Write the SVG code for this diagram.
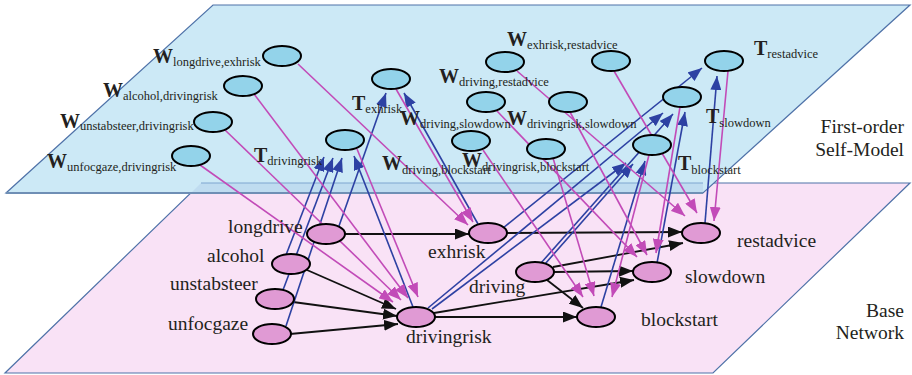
<svg xmlns="http://www.w3.org/2000/svg" width="912" height="375" viewBox="0 0 912 375">
<defs>
<style>
.plane{stroke:#4f72a8;stroke-width:1.2}
.tn{fill:#93d3ea;stroke:#000;stroke-width:2}
.bn{fill:#e09ad4;stroke:#000;stroke-width:2}
.k{stroke:#111;stroke-width:1.8;fill:none}
.b{stroke:#2d41a3;stroke-width:1.6;fill:none}
.m{stroke:#c24bb8;stroke-width:1.6;fill:none}
text{font-family:"Liberation Serif","Times New Roman",serif;fill:#231f20}
.big{font-size:20px;font-weight:bold}
.sub{font-size:12.5px}
.lb{font-size:19.5px}
</style>
<marker id="ak" markerUnits="userSpaceOnUse" markerWidth="14" markerHeight="11" refX="14" refY="5.5" orient="auto"><path d="M0,0 L14,5.5 L0,11 z" fill="#111"/></marker>
<marker id="ab" markerUnits="userSpaceOnUse" markerWidth="14" markerHeight="11" refX="14" refY="5.5" orient="auto"><path d="M0,0 L14,5.5 L0,11 z" fill="#2d41a3"/></marker>
<marker id="am" markerUnits="userSpaceOnUse" markerWidth="14" markerHeight="11" refX="14" refY="5.5" orient="auto"><path d="M0,0 L14,5.5 L0,11 z" fill="#c24bb8"/></marker>
</defs>

<g id="planes">
<polygon class="plane" points="201,183 910,183 713,373 5,373" fill="#f9e2f6"/>
<polygon class="plane" points="213,5 910,5 703,193 6,193" fill="#cce9f6"/>
<polygon points="201,183 703,183 703,193 191,193" fill="#bfdcf0"/>
<line x1="201" y1="183" x2="703" y2="183" stroke="#7fa6d0" stroke-width="1.2"/>
<line x1="6" y1="193" x2="703" y2="193" stroke="#6f8fb5" stroke-width="2"/>
</g>

<g id="connectors">
<!-- base network -->
<line class="k" x1="345" y1="234" x2="469" y2="234" marker-end="url(#ak)"/>
<line class="k" x1="507" y1="233" x2="682" y2="232" marker-end="url(#ak)"/>
<line class="k" x1="553" y1="267" x2="683" y2="243" marker-end="url(#ak)"/>
<line class="k" x1="554" y1="272" x2="633" y2="271" marker-end="url(#ak)"/>
<line class="k" x1="434" y1="313" x2="634" y2="280" marker-end="url(#ak)"/>
<line class="k" x1="547" y1="280" x2="583" y2="308" marker-end="url(#ak)"/>
<line class="k" x1="435" y1="317" x2="577" y2="317" marker-end="url(#ak)"/>
<line class="k" x1="307" y1="270" x2="396" y2="309" marker-end="url(#ak)"/>
<line class="k" x1="293" y1="302" x2="397" y2="316" marker-end="url(#ak)"/>
<line class="k" x1="290" y1="334" x2="398" y2="324" marker-end="url(#ak)"/>
<!-- upward (blue) -->
<line class="b" x1="286" y1="255" x2="324" y2="157" marker-end="url(#ab)"/>
<line class="b" x1="283" y1="290" x2="333" y2="158" marker-end="url(#ab)"/>
<line class="b" x1="286" y1="326" x2="342" y2="158" marker-end="url(#ab)"/>
<line class="b" x1="413" y1="307" x2="354" y2="156" marker-end="url(#ab)"/>
<line class="b" x1="339" y1="226" x2="386" y2="93" marker-end="url(#ab)"/>
<line class="b" x1="478" y1="224" x2="404" y2="93" marker-end="url(#ab)"/>
<line class="b" x1="503" y1="228" x2="702" y2="68" marker-end="url(#ab)"/>
<line class="b" x1="705" y1="223" x2="717" y2="76" marker-end="url(#ab)"/>
<line class="b" x1="428" y1="308" x2="663" y2="113" marker-end="url(#ab)"/>
<line class="b" x1="541" y1="263" x2="673" y2="114" marker-end="url(#ab)"/>
<line class="b" x1="657" y1="263" x2="685" y2="112" marker-end="url(#ab)"/>
<line class="b" x1="432" y1="309" x2="626" y2="163" marker-end="url(#ab)"/>
<line class="b" x1="545" y1="264" x2="633" y2="164" marker-end="url(#ab)"/>
<line class="b" x1="601" y1="307" x2="645" y2="161" marker-end="url(#ab)"/>
<!-- downward (magenta) -->
<line class="m" x1="298" y1="64" x2="468" y2="225" marker-end="url(#am)"/>
<line class="m" x1="254" y1="94" x2="408" y2="298" marker-end="url(#am)"/>
<line class="m" x1="225" y1="130" x2="401" y2="300" marker-end="url(#am)"/>
<line class="m" x1="200" y1="165" x2="393" y2="302" marker-end="url(#am)"/>
<line class="m" x1="357" y1="149" x2="418" y2="297" marker-end="url(#am)"/>
<line class="m" x1="396" y1="89" x2="473" y2="222" marker-end="url(#am)"/>
<line class="m" x1="517" y1="71" x2="685" y2="216" marker-end="url(#am)"/>
<line class="m" x1="614" y1="71" x2="697" y2="213" marker-end="url(#am)"/>
<line class="m" x1="728" y1="71" x2="714" y2="221" marker-end="url(#am)"/>
<line class="m" x1="497" y1="111" x2="637" y2="257" marker-end="url(#am)"/>
<line class="m" x1="570" y1="112" x2="647" y2="255" marker-end="url(#am)"/>
<line class="m" x1="680" y1="107" x2="656" y2="253" marker-end="url(#am)"/>
<line class="m" x1="483" y1="150" x2="583" y2="297" marker-end="url(#am)"/>
<line class="m" x1="553" y1="158" x2="594" y2="296" marker-end="url(#am)"/>
<line class="m" x1="649" y1="155" x2="612" y2="297" marker-end="url(#am)"/>
</g>

<!-- self-model nodes -->
<g id="W_longdrive_exhrisk"><ellipse class="tn" cx="282" cy="56" rx="19" ry="10"/><text x="153" y="63"><tspan class="big">W</tspan><tspan class="sub" dy="3">longdrive,exhrisk</tspan></text></g>
<g id="W_alcohol_drivingrisk"><ellipse class="tn" cx="243" cy="86" rx="19" ry="10"/><text x="103" y="97"><tspan class="big">W</tspan><tspan class="sub" dy="3">alcohol,drivingrisk</tspan></text></g>
<g id="W_unstabsteer_drivingrisk"><ellipse class="tn" cx="213" cy="122" rx="19" ry="10"/><text x="60" y="128"><tspan class="big">W</tspan><tspan class="sub" dy="2">unstabsteer,drivingrisk</tspan></text></g>
<g id="W_unfocgaze_drivingrisk"><ellipse class="tn" cx="191" cy="156" rx="19" ry="10"/><text x="47" y="168"><tspan class="big">W</tspan><tspan class="sub" dy="3">unfocgaze,drivingrisk</tspan></text></g>
<g id="T_drivingrisk"><ellipse class="tn" cx="345" cy="140" rx="19" ry="10"/><text x="254" y="162"><tspan class="big">T</tspan><tspan class="sub" dy="3">drivingrisk</tspan></text></g>
<g id="T_exhrisk"><ellipse class="tn" cx="391" cy="79" rx="19" ry="10"/><text x="352" y="110"><tspan class="big">T</tspan><tspan class="sub" dy="3">exhrisk</tspan></text></g>
<g id="W_driving_restadvice"><ellipse class="tn" cx="505" cy="62" rx="19" ry="10"/><text x="439" y="83"><tspan class="big">W</tspan><tspan class="sub" dy="3">driving,restadvice</tspan></text></g>
<g id="W_exhrisk_restadvice"><ellipse class="tn" cx="611" cy="61" rx="19" ry="10"/><text x="507" y="46"><tspan class="big">W</tspan><tspan class="sub" dy="3">exhrisk,restadvice</tspan></text></g>
<g id="W_driving_slowdown"><ellipse class="tn" cx="486" cy="102" rx="19" ry="10"/><text x="400" y="125"><tspan class="big">W</tspan><tspan class="sub" dy="3">driving,slowdown</tspan></text></g>
<g id="W_drivingrisk_slowdown"><ellipse class="tn" cx="568" cy="102" rx="19" ry="10"/><text x="507" y="125"><tspan class="big">W</tspan><tspan class="sub" dy="3">drivingrisk,slowdown</tspan></text></g>
<g id="W_driving_blockstart"><ellipse class="tn" cx="471" cy="141" rx="19" ry="10"/><text x="382" y="170"><tspan class="big">W</tspan><tspan class="sub" dy="4">driving,blockstart</tspan></text></g>
<g id="W_drivingrisk_blockstart"><ellipse class="tn" cx="546" cy="149" rx="19" ry="10"/><text x="462" y="167"><tspan class="big">W</tspan><tspan class="sub" dy="4">drivingrisk,blockstart</tspan></text></g>
<g id="T_restadvice"><ellipse class="tn" cx="724" cy="61" rx="19" ry="10"/><text x="754" y="55"><tspan class="big">T</tspan><tspan class="sub" dy="3">restadvice</tspan></text></g>
<g id="T_slowdown"><ellipse class="tn" cx="682" cy="97" rx="19" ry="10"/><text x="706" y="123"><tspan class="big">T</tspan><tspan class="sub" dy="4">slowdown</tspan></text></g>
<g id="T_blockstart"><ellipse class="tn" cx="652" cy="145" rx="19" ry="10"/><text x="678" y="170"><tspan class="big">T</tspan><tspan class="sub" dy="4">blockstart</tspan></text></g>

<!-- base nodes -->
<g id="longdrive"><ellipse class="bn" cx="326" cy="234" rx="19" ry="10"/><text class="lb" x="228" y="233">longdrive</text></g>
<g id="alcohol"><ellipse class="bn" cx="291" cy="264" rx="19" ry="10"/><text class="lb" x="207" y="262">alcohol</text></g>
<g id="unstabsteer"><ellipse class="bn" cx="275" cy="299" rx="19" ry="10"/><text class="lb" x="170" y="290">unstabsteer</text></g>
<g id="unfocgaze"><ellipse class="bn" cx="272" cy="334" rx="19" ry="10"/><text class="lb" x="168" y="330">unfocgaze</text></g>
<g id="exhrisk"><ellipse class="bn" cx="488" cy="233" rx="19" ry="10"/><text class="lb" x="428" y="258">exhrisk</text></g>
<g id="drivingrisk"><ellipse class="bn" cx="416" cy="317" rx="19" ry="10"/><text class="lb" x="406" y="343">drivingrisk</text></g>
<g id="driving"><ellipse class="bn" cx="535" cy="272" rx="19" ry="10"/><text class="lb" x="469" y="293">driving</text></g>
<g id="blockstart"><ellipse class="bn" cx="596" cy="317" rx="19" ry="10"/><text class="lb" x="641" y="326">blockstart</text></g>
<g id="restadvice"><ellipse class="bn" cx="701" cy="233" rx="19" ry="10"/><text class="lb" x="737" y="247">restadvice</text></g>
<g id="slowdown"><ellipse class="bn" cx="652" cy="272" rx="19" ry="10"/><text class="lb" x="685" y="283">slowdown</text></g>

<g id="plane-labels">
<text class="lb" x="904" y="133" text-anchor="end">First-order</text>
<text class="lb" x="904" y="156" text-anchor="end">Self-Model</text>
<text class="lb" x="904" y="317" text-anchor="end">Base</text>
<text class="lb" x="904" y="339" text-anchor="end">Network</text>
</g>
</svg>
